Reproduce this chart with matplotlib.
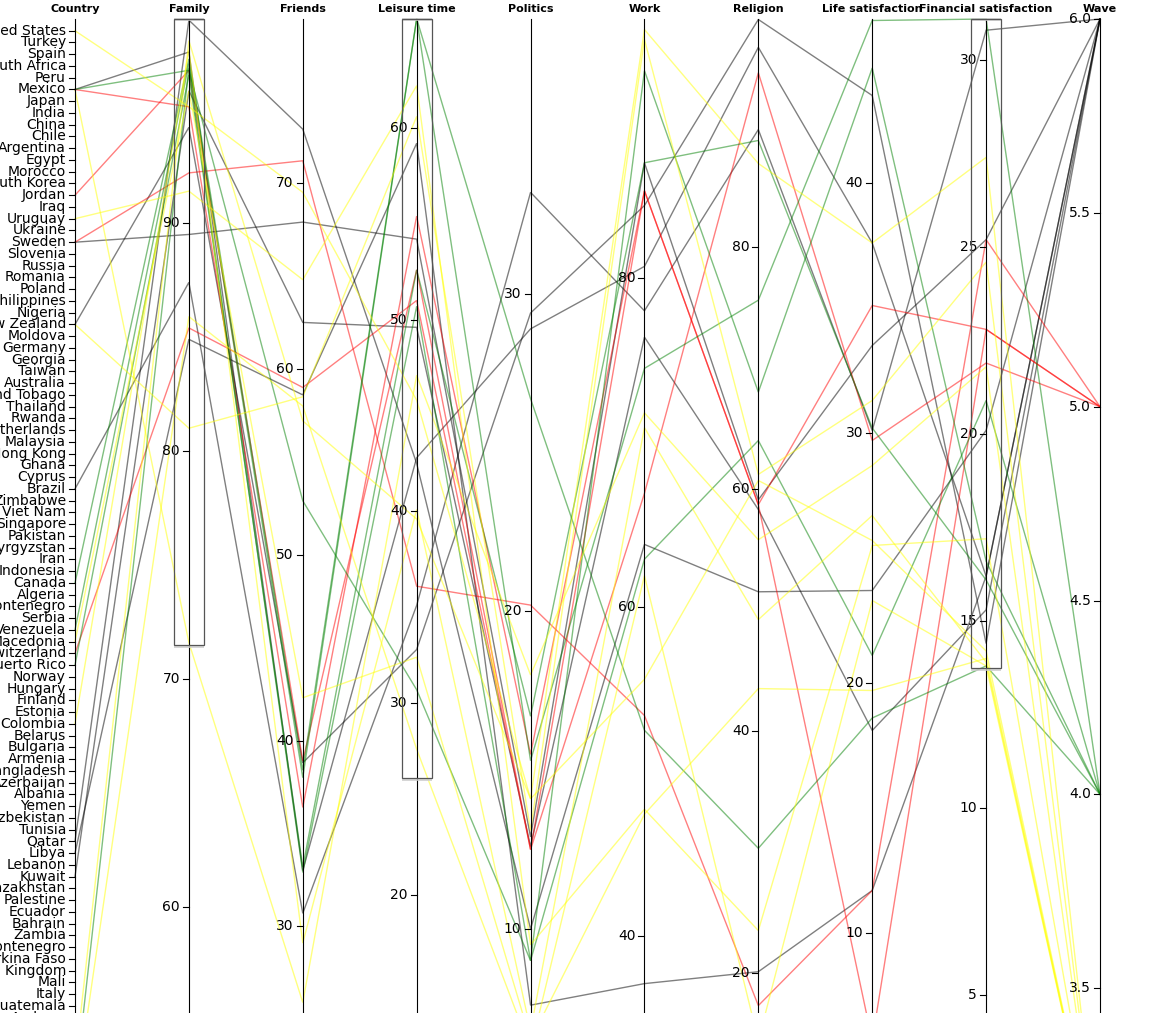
import numpy as np
import matplotlib.pyplot as plt
from matplotlib.patches import Rectangle

# ---------- Data ----------
countries = [
    "United States", "Turkey", "Spain", "South Africa", "Peru", "Mexico", "Japan",
    "India", "China", "Chile", "Argentina", "Egypt", "Morocco", "South Korea",
    "Jordan", "Iraq", "Uruguay", "Ukraine", "Sweden", "Slovenia", "Russia",
    "Romania", "Poland", "Philippines", "Nigeria", "New Zealand", "Moldova",
    "Germany", "Georgia", "Taiwan", "Australia", "Trinidad and Tobago", "Thailand",
    "Rwanda", "Netherlands", "Malaysia", "Hong Kong", "Ghana", "Cyprus", "Brazil",
    "Zimbabwe", "Viet Nam", "Singapore", "Pakistan", "Kyrgyzstan", "Iran",
    "Indonesia", "Canada", "Algeria", "Montenegro", "Serbia", "Venezuela",
    "Macedonia", "Switzerland", "Puerto Rico", "Norway", "Hungary", "Finland",
    "Estonia", "Colombia", "Belarus", "Bulgaria", "Armenia", "Bangladesh",
    "Azerbaijan", "Albania", "Yemen", "Uzbekistan", "Tunisia", "Qatar", "Libya",
    "Lebanon", "Kuwait", "Kazakhstan", "Palestine", "Ecuador", "Bahrain", "Zambia",
    "Serbia and Montenegro", "Burkina Faso", "United Kingdom", "Mali", "Italy",
    "Guatemala", "Andorra", "Iceland", "Ethiopia", "France", "Dominican Republic",
    "El Salvador", "Lithuania", "Latvia", "Croatia", "Czech Republic", "Slovakia",
    "Denmark", "Austria", "Bosnia",
]

dims = ["Country", "Family", "Friends", "Leisure time", "Politics", "Work",
        "Religion", "Life satisfaction", "Financial satisfaction", "Wave"]

# one entry per country-wave line
country = ["Mexico", "Sweden", "New Zealand", "Brazil", "Qatar", "Libya", "Kuwait",
           "Mexico", "Jordan", "Sweden", "Switzerland",
           "Mexico", "Canada", "Venezuela", "Puerto Rico", "Lithuania",
           "United States", "Mexico", "Uruguay", "New Zealand", "Macedonia",
           "Colombia", "Latvia", "Dominican Republic"]
family = [97.5, 89.5, 94.2, 87.4, 98.9, 84.9, 95.8,
          95.1, 96.7, 92.2, 85.4,
          96.7, 97.2, 97.0, 96.5, 96.8,
          95.1, 71.6, 91.4, 81.0, 95.8, 97.6, 85.9, 98.0]
friends = [33.0, 67.9, 38.8, 30.7, 72.9, 58.6, 62.5,
           36.4, 38.9, 71.2, 59.0,
           52.9, 38.4, 38.0, 33.2, 32.9,
           69.5, 25.9, 64.8, 58.5, 42.3, 29.1, 58.0, 57.2]
leisure = [42.8, 54.2, 32.8, 35.1, 42.5, 59.2, 49.6,
           55.4, 52.6, 36.1, 51.0,
           30.7, 65.7, 65.7, 52.6, 50.7,
           45.8, 47.1, 62.2, 60.6, 32.4, 40.1, 27.6, 39.6]
politics = [28.9, 12.9, 29.4, 33.2, 10.0, 7.6, 12.6,
            15.5, 12.5, 20.2, 12.5,
            9.0, 15.3, 26.7, 16.7, 9.0,
            14.1, 18.0, 9.5, 13.1, 6.5, 6.8, 6.2, 14.1]
work = [80.7, 87.0, 84.4, 78.0, 63.8, 37.1, 76.4,
        85.3, 66.9, 53.4, 85.3,
        92.6, 74.5, 52.5, 87.0, 62.9,
        95.1, 71.8, 47.7, 94.5, 47.4, 70.9, 61.9, 55.6]
religion = [96.5, 59.1, 98.8, 89.7, 51.5, 20.1, 58.3,
            58.7, 94.4, 17.3, 58.7,
            68.0, 75.6, 30.3, 88.8, 64.0,
            86.9, 55.8, 23.5, 61.2, 43.5, 49.2, 14.4, 60.7]
life_sat = [37.6, 33.5, 43.5, 30.1, 23.7, 11.7, 18.1,
            35.1, 29.7, 11.7, 5.7,
            44.6, 46.5, 18.6, 30.2, 21.1,
            37.6, 28.7, 25.5, 31.3, 19.7, 26.7, 23.3, 25.7]
fin_sat = [16.2, 25.2, 14.4, 30.8, 20.1, 16.2, 15.3,
           22.8, 21.9, 25.2, 22.8,
           16.6, 31.1, 13.8, 16.1, 20.9,
           27.4, 21.8, 17.2, 24.6, 14.0, 13.9, 13.8, 14.2]
wave = [6, 6, 6, 6, 6, 6, 6,
        5, 5, 5, 5,
        4, 4, 4, 4, 4,
        3, 3, 3, 3, 3, 3, 3, 3]

domains = {
    "Family": (47.94, 98.95), "Friends": (16.24, 78.83),
    "Leisure time": (5.03, 65.68), "Politics": (2.03, 38.66),
    "Work": (25.04, 95.74), "Religion": (2.72, 98.84),
    "Life satisfaction": (0.04, 46.56), "Financial satisfaction": (0.0, 31.1),
    "Wave": (3.0, 6.0),
}
ticks = {
    "Family": [60, 70, 80, 90], "Friends": [30, 40, 50, 60, 70],
    "Leisure time": [20, 30, 40, 50, 60], "Politics": [10, 20, 30],
    "Work": [40, 60, 80], "Religion": [20, 40, 60, 80],
    "Life satisfaction": [10, 20, 30, 40],
    "Financial satisfaction": [5, 10, 15, 20, 25, 30],
    "Wave": [3.5, 4.0, 4.5, 5.0, 5.5, 6.0],
}
brushes = {"Family": (71.5, 98.95), "Leisure time": (26.1, 65.68),
           "Financial satisfaction": (13.75, 31.1)}
wave_colors = {3: "yellow", 4: "green", 5: "red", 6: "black"}

# ---------- Layout (pixel space, like the d3 original) ----------
W, H = 1163, 1013
Y_TOP, Y_BOT = 19, 1182
xpos = dict(zip(dims, np.linspace(75, 1100, len(dims))))
step = (Y_BOT - Y_TOP) / (len(countries) + 1)


def scale(dim, v):
    if dim == "Country":
        return Y_TOP + step * (countries.index(v) + 1)
    lo, hi = domains[dim]
    return Y_BOT - (v - lo) / (hi - lo) * (Y_BOT - Y_TOP)


fig = plt.figure(figsize=(W / 100, H / 100), dpi=100)
ax = fig.add_axes([0, 0, 1, 1])
ax.set_xlim(0, W)
ax.set_ylim(H, 0)
ax.axis("off")

# ---------- Lines ----------
cols = [country, family, friends, leisure, politics, work, religion,
        life_sat, fin_sat, wave]
for i in range(len(country)):
    xs = [xpos[d] for d in dims]
    ys = [scale(d, c[i]) for d, c in zip(dims, cols)]
    ax.plot(xs, ys, color=wave_colors[wave[i]], alpha=0.5, lw=1.0,
            solid_joinstyle="miter")

# ---------- Axes ----------
for d in dims:
    x = xpos[d]
    ax.plot([x, x], [Y_TOP, Y_BOT], color="black", lw=0.8, zorder=3)
    ax.text(x, 9, d, ha="center", va="center", fontsize=8, fontweight="bold",
            zorder=4)
    if d == "Country":
        vals, labels = countries, countries
    else:
        vals = ticks[d]
        labels = [f"{v:.1f}" if d == "Wave" else f"{v:g}" for v in vals]
    for v, lab in zip(vals, labels):
        y = scale(d, v)
        ax.plot([x - 6, x], [y, y], color="black", lw=0.8, zorder=3)
        ax.text(x - 9, y, lab, ha="right", va="center", fontsize=10, zorder=4)

# ---------- Brushes ----------
for d, (lo, hi) in brushes.items():
    x = xpos[d]
    y0, y1 = scale(d, hi), scale(d, lo)
    ax.add_patch(Rectangle((x - 15, y0), 30, y1 - y0, fill=False,
                           ec="#555555", lw=0.9, zorder=5))
    for yy in (y0, y1 + 1.5):
        ax.add_patch(Rectangle((x - 15, yy - 1.5), 30, 3.5, color="#cccccc",
                               alpha=0.8, lw=0, zorder=4.5))

fig.savefig("out.png", dpi=100)
